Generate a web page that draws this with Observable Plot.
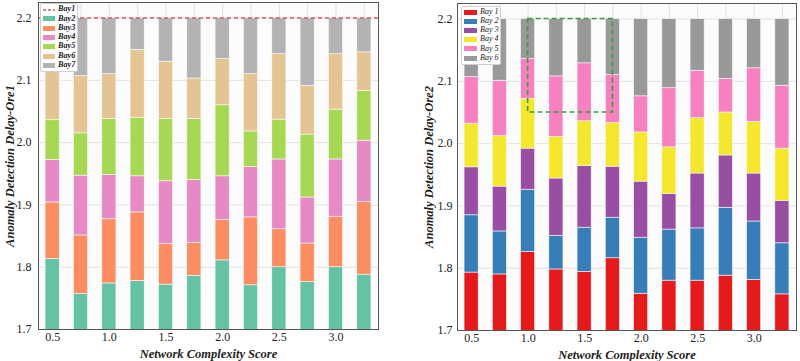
<!DOCTYPE html>
<html>
<head>
<meta charset="utf-8">
<script src="https://cdn.jsdelivr.net/npm/d3@7"></script>
<script src="https://cdn.jsdelivr.net/npm/@observablehq/plot@0.6"></script>
<style>
  body { margin: 0; background: #fff; }
  #wrap { position: relative; width: 800px; height: 361px; display: flex; }
  .panel { position: relative; width: 400px; height: 361px; }
  .panel svg text { font-family: "Liberation Serif", serif; }
  .legend { position: absolute; background: #fff; border: 1px solid #cfcfcf; border-radius: 2px;
            font-family: "Liberation Serif", serif; font-style: italic; color: #222; box-sizing: border-box; }
  .legend .row { display: flex; align-items: center; white-space: nowrap; overflow: visible; }
  .legend .row span { display: block; line-height: 8.8px; height: 8.8px; }
  .legend .sw { flex: none; }
</style>
</head>
<body>
<div id="wrap"><div class="panel" id="p1"></div><div class="panel" id="p2"></div></div>
<script>
// ---- Data ----
const scores = [0.5, 0.75, 1.0, 1.25, 1.5, 1.75, 2.0, 2.25, 2.5, 2.75, 3.0, 3.25];
const xTicks = [0.5, 1.0, 1.5, 2.0, 2.5, 3.0];
const yTicks = [1.7, 1.8, 1.9, 2.0, 2.1, 2.2];

// Left chart (Ore1): segment sizes, bottom to top
const ore1Names = ["Bay2", "Bay3", "Bay4", "Bay5", "Bay6", "Bay7"];
const ore1Bay2 = [1.813, 1.757, 1.774, 1.778, 1.772, 1.786, 1.811, 1.771, 1.800, 1.776, 1.800, 1.788];
const ore1Bay3 = [0.091, 0.094, 0.103, 0.110, 0.065, 0.053, 0.065, 0.109, 0.061, 0.062, 0.081, 0.117];
const ore1Bay4 = [0.068, 0.096, 0.071, 0.058, 0.101, 0.101, 0.070, 0.081, 0.112, 0.074, 0.092, 0.098];
const ore1Bay5 = [0.064, 0.068, 0.090, 0.094, 0.100, 0.098, 0.114, 0.057, 0.064, 0.101, 0.080, 0.080];
const ore1Bay6 = [0.082, 0.092, 0.072, 0.109, 0.092, 0.065, 0.074, 0.092, 0.105, 0.078, 0.089, 0.062];
const ore1Bay7 = [0.082, 0.093, 0.090, 0.051, 0.070, 0.097, 0.066, 0.090, 0.058, 0.109, 0.058, 0.055];
const ore1Bay1Line = [2.2];
const ore1Colors = ["#66c2a5", "#fc8d62", "#e78ac3", "#a6d854", "#e5c494", "#b3b3b3"];

// Right chart (Ore2)
const ore2Names = ["Bay 1", "Bay 2", "Bay 3", "Bay 4", "Bay 5", "Bay 6"];
const ore2Bay1 = [1.793, 1.790, 1.826, 1.798, 1.794, 1.816, 1.759, 1.780, 1.780, 1.788, 1.781, 1.758];
const ore2Bay2 = [0.092, 0.069, 0.100, 0.054, 0.071, 0.065, 0.090, 0.082, 0.084, 0.109, 0.094, 0.082];
const ore2Bay3 = [0.077, 0.072, 0.066, 0.092, 0.099, 0.082, 0.090, 0.057, 0.088, 0.084, 0.077, 0.068];
const ore2Bay4 = [0.070, 0.081, 0.080, 0.067, 0.072, 0.070, 0.079, 0.075, 0.089, 0.069, 0.083, 0.084];
const ore2Bay5 = [0.075, 0.089, 0.064, 0.097, 0.093, 0.077, 0.058, 0.095, 0.076, 0.054, 0.086, 0.101];
const ore2Bay6 = [0.093, 0.099, 0.064, 0.092, 0.071, 0.090, 0.124, 0.111, 0.083, 0.096, 0.079, 0.107];
const ore2Colors = ["#e41a1c", "#377eb8", "#984ea3", "#f5e62e", "#f781bf", "#999999"];
// highlighted region (score range, delay range)
const zoomBox = [{x1: 1.0, x2: 1.75, y1: 2.05, y2: 2.2}];

const FONT = "'Liberation Serif', serif";
const HALF = 0.0625;

function table(names, arrays) {
  const rows = [];
  names.forEach((n, k) => arrays[k].forEach((v, i) => rows.push({score: scores[i], series: n, value: v})));
  return rows;
}

function makeChart({rows, names, colors, marginLeft, marginRight, marginTop, marginBottom, ylabel, extra, tickPad, ylabelDx}) {
  return Plot.plot({
    width: 400, height: 361,
    marginLeft, marginRight, marginTop, marginBottom,
    style: {fontFamily: FONT, fontSize: "12px", color: "#222", background: "transparent"},
    x: {domain: [0.375, 3.375], ticks: xTicks, tickFormat: ".1f", tickSize: 0, tickPadding: 3, label: null},
    y: {domain: [1.7, 2.225], ticks: yTicks, tickFormat: ".1f", tickSize: 0, tickPadding: tickPad, label: null},
    color: {domain: names, range: colors},
    marks: [
      Plot.frame({fill: "#fcfcfc", stroke: null}),
      Plot.gridX(scores, {stroke: "#e2e2e2", strokeOpacity: 1, strokeWidth: 1}),
      Plot.gridY(yTicks, {stroke: "#e2e2e2", strokeOpacity: 1, strokeWidth: 1}),
      Plot.rectY(rows, Plot.stackY({
        x: "score",
        x1: d => d.score - HALF, x2: d => d.score + HALF,
        y: "value", fill: "series", stroke: "#ffffff", strokeWidth: 0.7, strokeOpacity: 0.8,
        clip: true
      })),
      ...extra,
      Plot.frame({stroke: "#555", strokeWidth: 1}),
      Plot.text(["Network Complexity Score"], {frameAnchor: "bottom", lineAnchor: "middle", textAnchor: "middle", dy: 24, fontSize: 12.5, fontWeight: "bold", fontStyle: "italic", fill: "#222", fontFamily: FONT}),
      Plot.text([ylabel], {frameAnchor: "left", textAnchor: "middle", lineAnchor: "middle", rotate: -90, dx: ylabelDx, fontSize: 12.5, fontWeight: "bold", fontStyle: "italic", fill: "#222", fontFamily: FONT})
    ]
  });
}

const c1 = makeChart({
  rows: table(ore1Names, [ore1Bay2, ore1Bay3, ore1Bay4, ore1Bay5, ore1Bay6, ore1Bay7]),
  names: ore1Names, colors: ore1Colors,
  marginLeft: 38, marginRight: 22, marginTop: 2, marginBottom: 32,
  ylabel: "Anomaly Detection Delay-Ore1", tickPad: 7, ylabelDx: -29,
  extra: [Plot.ruleY(ore1Bay1Line, {stroke: "#e05a5a", strokeWidth: 1.6, strokeDasharray: "4,3"})]
});
const c2 = makeChart({
  rows: table(ore2Names, [ore2Bay1, ore2Bay2, ore2Bay3, ore2Bay4, ore2Bay5, ore2Bay6]),
  names: ore2Names, colors: ore2Colors,
  marginLeft: 57, marginRight: 4, marginTop: 3, marginBottom: 31,
  ylabel: "Anomaly Detection Delay-Ore2", tickPad: 5, ylabelDx: -29,
  extra: [Plot.rect(zoomBox, {x1: "x1", x2: "x2", y1: "y1", y2: "y2", fill: "none", stroke: "#3f9a3f", strokeWidth: 1.6, strokeDasharray: "5,3"})]
});
document.getElementById("p1").appendChild(c1);
document.getElementById("p2").appendChild(c2);

function legend(parent, {left, top, rowH, fontSize, weight, items, swW, swH}) {
  const box = document.createElement("div");
  box.className = "legend";
  box.style.left = left + "px"; box.style.top = top + "px";
  box.style.padding = "1px 2px 1px 2px";
  box.style.fontSize = fontSize + "px"; box.style.fontWeight = weight;
  items.forEach(it => {
    const row = document.createElement("div");
    row.className = "row";
    row.style.height = rowH + "px";
    let sw;
    if (it.dash) {
      sw = document.createElementNS("http://www.w3.org/2000/svg", "svg");
      sw.setAttribute("width", swW); sw.setAttribute("height", 4);
      const ln = document.createElementNS("http://www.w3.org/2000/svg", "line");
      ln.setAttribute("x1", 0); ln.setAttribute("x2", swW); ln.setAttribute("y1", 2); ln.setAttribute("y2", 2);
      ln.setAttribute("stroke", it.color); ln.setAttribute("stroke-width", 1.6); ln.setAttribute("stroke-dasharray", "3,2");
      sw.appendChild(ln);
    } else {
      sw = document.createElement("div");
      sw.style.width = swW + "px"; sw.style.height = swH + "px"; sw.style.background = it.color;
    }
    sw.classList.add("sw");
    sw.style.marginRight = "3px";
    const t = document.createElement("span");
    t.textContent = it.label;
    row.appendChild(sw); row.appendChild(t);
    box.appendChild(row);
  });
  parent.appendChild(box);
}

legend(document.getElementById("p1"), {
  left: 40, top: 3, rowH: 9.3, fontSize: 8.2, weight: "bold", swW: 12, swH: 5,
  items: [{label: "Bay1", color: "#e05a5a", dash: true}, ...ore1Names.map((n, i) => ({label: n, color: ore1Colors[i]}))]
});
legend(document.getElementById("p2"), {
  left: 61, top: 6, rowH: 9.1, fontSize: 8, weight: "normal", swW: 13, swH: 5,
  items: ore2Names.map((n, i) => ({label: n, color: ore2Colors[i]}))
});
</script>
</body>
</html>
